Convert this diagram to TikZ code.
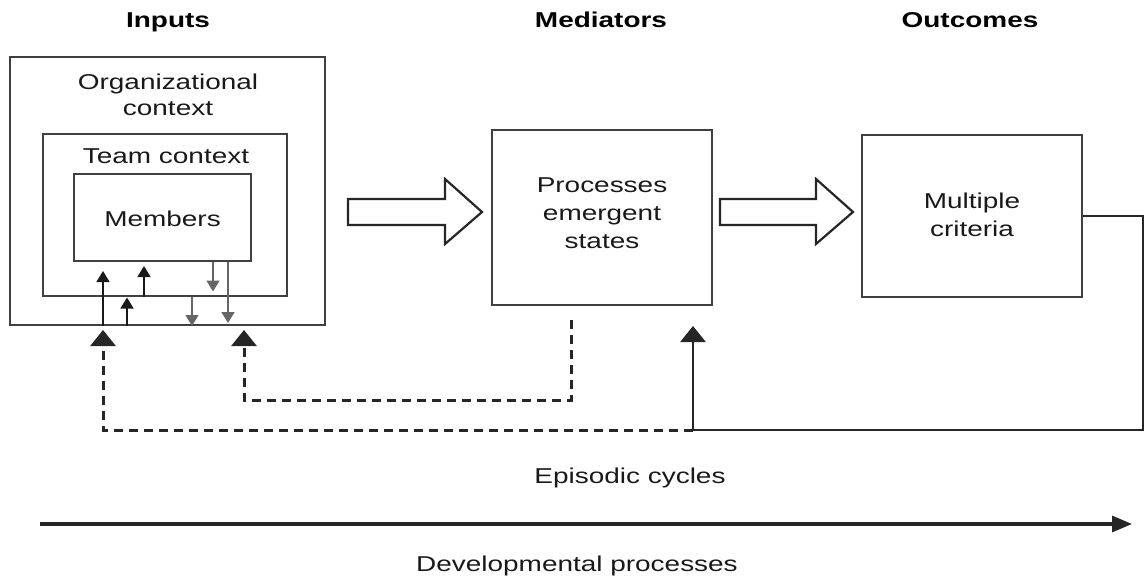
\documentclass[tikz,border=0pt]{standalone}
\usepackage{fontspec}
\setmainfont[FakeStretch=1.3]{Liberation Sans}
\usetikzlibrary{arrows.meta}
\begin{document}
\begin{tikzpicture}[x=1pt,y=-1pt,
  txt/.style={anchor=base,inner sep=0pt,text=black!90,font=\fontsize{21.5}{26}\selectfont},
  hdr/.style={txt,font=\fontsize{21.5}{26}\selectfont\bfseries,text=black},
  boxn/.style={draw=black!75,line width=2pt,inner sep=0pt,rectangle},
  blockarrow/.style={draw=black!85,line width=2.2pt,fill=white,line join=miter},
  small/.style={line width=1.5pt,-{Triangle[width=13pt,length=11pt]}},
  smallup/.style={small,draw=black!90,fill=black!90},
  smalldown/.style={small,draw=black!60,fill=black!75},
  bigtip/.style={-{Triangle[width=25pt,length=16pt]}},
  fb/.style={line width=3pt,dash pattern=on 9pt off 6pt,draw=black!85},
  ret/.style={line width=2.8pt,draw=black!85}
]
\useasboundingbox (0,0) rectangle (1144,578);

% headers
\node[hdr] (hin) at (168,28) {Inputs};
\node[hdr] (hmed) at (601,28) {Mediators};
\node[hdr] (hout) at (970,28) {Outcomes};

% boxes
\node[boxn,minimum width=315pt,minimum height=268pt] (org) at (167.5,191) {};
\node[boxn,minimum width=244pt,minimum height=162pt] (team) at (165,214.5) {};
\node[boxn,minimum width=177pt,minimum height=87pt] (mem) at (162.5,217.5) {};
\node[boxn,minimum width=220pt,minimum height=175pt] (proc) at (602,217.5) {};
\node[boxn,minimum width=220pt,minimum height=162pt] (crit) at (972,216) {};

% box texts
\node[txt] (org1) at (168,89) {Organizational};
\node[txt] (org2) at (168,115) {context};
\node[txt] (team1) at (166,163) {Team context};
\node[txt] (mem1) at (162.5,226) {Members};
\node[txt] (proc1) at (602,192) {Processes};
\node[txt] (proc2) at (602,220) {emergent};
\node[txt] (proc3) at (602,248) {states};
\node[txt] (crit1) at (972,208) {Multiple};
\node[txt] (crit2) at (972,236) {criteria};

% block arrows
\draw[blockarrow] (348,199) -- (445,199) -- (445,179) -- (482,212) -- (445,244) -- (445,225) -- (348,225) -- cycle;
\draw[blockarrow] (720,199) -- (816,199) -- (816,179) -- (853,212) -- (816,244) -- (816,225) -- (720,225) -- cycle;

% small inner arrows
\draw[smallup] (org.south -| 103,0) -- ([yshift=-9pt]mem.south -| 103,0);
\draw[smallup] (team.south -| 144,0) -- ([yshift=-4pt]mem.south -| 144,0);
\draw[smallup] (org.south -| 127,0) -- ([yshift=-1pt]team.south -| 127,0);
\draw[smalldown] (mem.south -| 213,0) -- ([yshift=5pt]team.south -| 213,0);
\draw[smalldown] (mem.south -| 228,0) -- ([yshift=3pt]org.south -| 228,0);
\draw[smalldown] (team.south -| 192,0) -- (org.south -| 192,0);

% feedback loops
\coordinate (rc) at (1143,430);
\coordinate (rj) at (693,430);
\coordinate (lc) at (103,430);
\coordinate (pd) at (571,320);
\coordinate (pc) at (571,400);
\coordinate (qc) at (244,400);

\draw[ret,bigtip,line join=miter] (crit.east) -- (crit.east -| rc) -- (rc) -- (rj) -- ([yshift=-20pt]proc.south -| rj);
\draw[fb,bigtip] (rj) -- (lc) -- ([yshift=-4pt]org.south -| lc);
\draw[fb,bigtip] (pd) -- (pc) -- (qc) -- ([yshift=-4pt]org.south -| qc);

% episodic cycles
\node[txt] (epi) at (630,483) {Episodic cycles};

% developmental arrow
\coordinate (ds) at (40,524);
\coordinate (de) at (1132,524);
\draw[line width=3.2pt,draw=black!85,-{Triangle[width=16pt,length=20pt]}] (ds) -- (de);
\node[txt] (dev) at (577,571) {Developmental processes};
\end{tikzpicture}
\end{document}
